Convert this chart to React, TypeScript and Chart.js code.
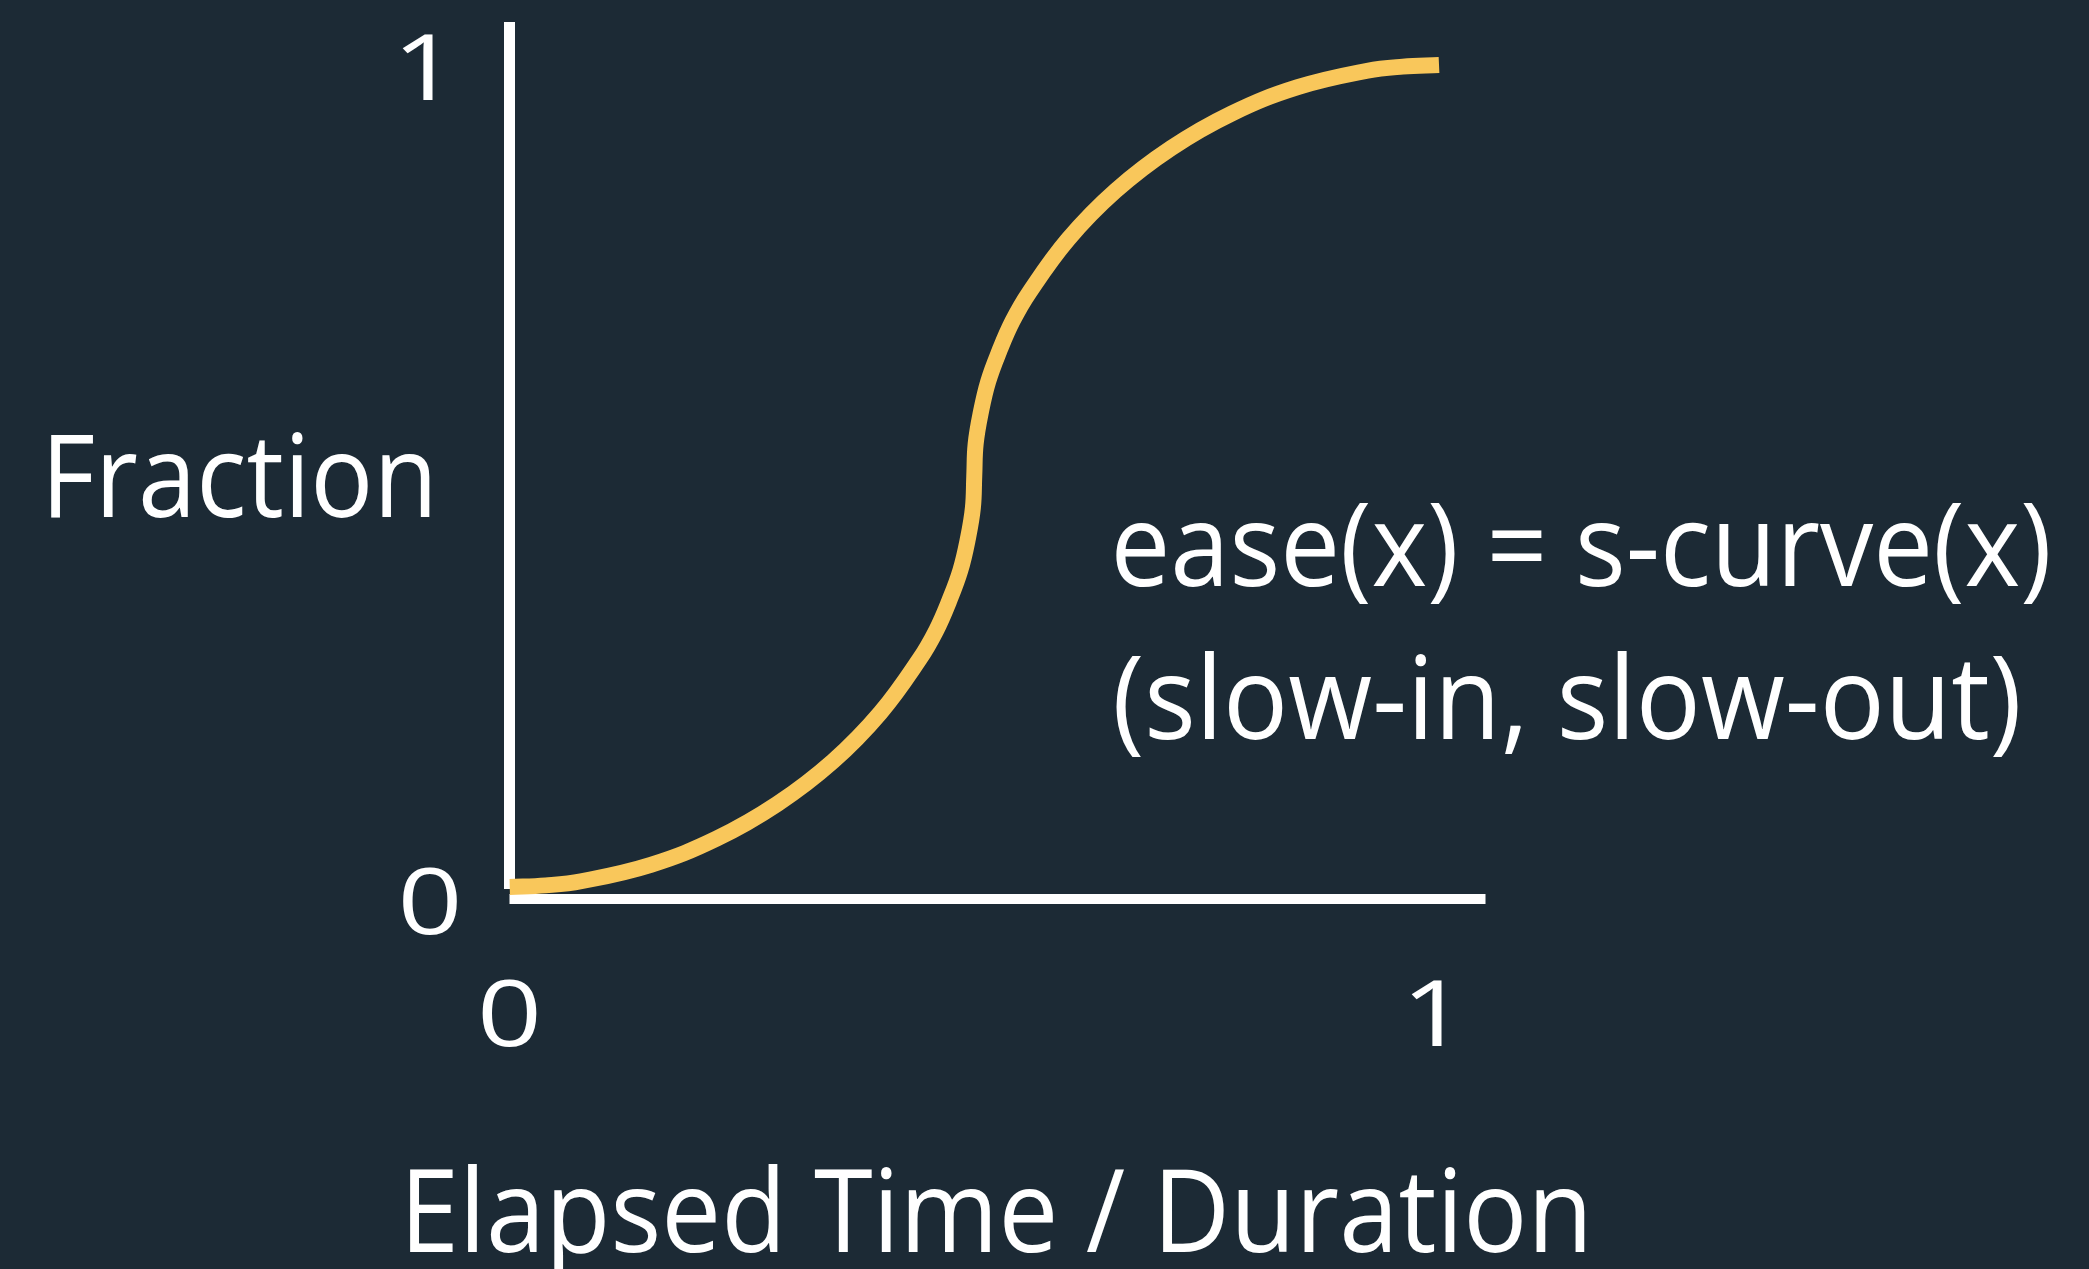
import React, { useEffect, useRef } from "react";
import { Chart, registerables } from "chart.js";

Chart.register(...registerables);

// ---- data ----
const curveX = [0, 0.039, 0.077, 0.152, 0.223, 0.288, 0.348, 0.399, 0.441, 0.459, 0.473, 0.485, 0.493, 0.4985, 0.5, 0.5015, 0.507, 0.515, 0.527, 0.541, 0.559, 0.601, 0.652, 0.712, 0.777, 0.848, 0.923, 0.961, 1.0];
const curveY = [0, 0.002, 0.007, 0.027, 0.059, 0.101, 0.153, 0.212, 0.277, 0.312, 0.348, 0.385, 0.423, 0.461, 0.5, 0.539, 0.577, 0.615, 0.652, 0.688, 0.723, 0.788, 0.847, 0.899, 0.941, 0.973, 0.993, 0.998, 1.0];

const xTickValues = [0, 1];
const xTickLabels = ["0", "1"];
const yTickValues = [0, 1];
const yTickLabels = ["0", "1"];

const xTitle = "Elapsed Time / Duration";
const yTitle = "Fraction";
const noteLines = ["ease(x) = s-curve(x)", "(slow-in, slow-out)"];

// ---- styles ----
const BG = "#1c2a35";
const CURVE = "#f9c75b";
const WHITE = "#ffffff";
const FONT = '"Open Sans", "DejaVu Sans", sans-serif';

function fitText(
  ctx: CanvasRenderingContext2D,
  text: string,
  size: number,
  left: number,
  width: number,
  baseline: number
) {
  ctx.font = `${size}px ${FONT}`;
  ctx.textAlign = "left";
  ctx.textBaseline = "alphabetic";
  const m = ctx.measureText(text);
  const inkW = m.actualBoundingBoxLeft + m.actualBoundingBoxRight;
  const sx = width / inkW;
  ctx.save();
  ctx.translate(left, baseline);
  ctx.scale(sx, 1);
  ctx.fillText(text, m.actualBoundingBoxLeft, 0);
  ctx.restore();
}

// tick labels: ink left-aligned at `left`
function tickText(
  ctx: CanvasRenderingContext2D,
  text: string,
  left: number,
  baseline: number
) {
  const w = text === "1" ? 30 : 55;
  fitText(ctx, text, 91, left, w, baseline);
}

const decorPlugin = {
  id: "decor",
  beforeDraw(chart: any) {
    const ctx = chart.ctx as CanvasRenderingContext2D;
    ctx.save();
    ctx.fillStyle = BG;
    ctx.fillRect(0, 0, chart.width, chart.height);
    ctx.restore();
  },
  beforeDatasetsDraw(chart: any) {
    const ctx = chart.ctx as CanvasRenderingContext2D;
    const { chartArea } = chart;
    const xs = chart.scales.x;
    const ys = chart.scales.y;
    ctx.save();
    ctx.strokeStyle = WHITE;
    ctx.lineCap = "butt";
    // y axis
    ctx.lineWidth = 11;
    ctx.beginPath();
    const x0 = xs.getPixelForValue(0);
    ctx.moveTo(x0, chartArea.top);
    ctx.lineTo(x0, ys.getPixelForValue(0) + 2);
    ctx.stroke();
    // x axis
    ctx.lineWidth = 10;
    ctx.beginPath();
    ctx.moveTo(x0, chartArea.bottom);
    ctx.lineTo(chartArea.right, chartArea.bottom);
    ctx.stroke();
    ctx.restore();
  },
  afterDraw(chart: any) {
    const ctx = chart.ctx as CanvasRenderingContext2D;
    const { chartArea } = chart;
    const xs = chart.scales.x;
    const ys = chart.scales.y;
    ctx.save();
    ctx.fillStyle = WHITE;

    // y tick labels
    yTickValues.forEach((v, i) => {
      const py = v === 0 ? chartArea.bottom : ys.getPixelForValue(v);
      tickText(ctx, yTickLabels[i], chartArea.left - 107, py + 35);
    });
    // x tick labels
    xTickValues.forEach((v, i) => {
      const px = xs.getPixelForValue(v) - 27.5;
      tickText(ctx, xTickLabels[i], px, chartArea.bottom + 147);
    });

    // y title (horizontal, left of axis)
    const yRight = chartArea.left - 79.5;
    fitText(ctx, yTitle, 115, 51, yRight - 51, ys.getPixelForValue(0.5) + 41.5);

    // x title, centred under the plot
    const cx = (chartArea.left + chartArea.right) / 2;
    fitText(ctx, xTitle, 115, cx - 587.5, 1175, chartArea.bottom + 353);

    // annotation
    const nx = xs.getPixelForValue(0.6525);
    fitText(ctx, noteLines[0], 115, nx, 932, ys.getPixelForValue(0.366));
    fitText(ctx, noteLines[1], 115, nx, 902, ys.getPixelForValue(0.18));

    ctx.restore();
  },
};

export default function App() {
  const ref = useRef<HTMLCanvasElement>(null);

  useEffect(() => {
    document.body.style.margin = "0";
    document.body.style.background = BG;
    const canvas = ref.current;
    if (!canvas) return;
    const points = curveX.map((x, i) => ({ x, y: curveY[i] }));
    const chart = new Chart(canvas, {
      type: "line",
      data: {
        datasets: [
          {
            data: points,
            borderColor: CURVE,
            borderWidth: 16,
            borderCapStyle: "butt",
            borderJoinStyle: "round",
            pointRadius: 0,
            fill: false,
            tension: 0.4,
          } as any,
        ],
      },
      options: {
        responsive: false,
        maintainAspectRatio: false,
        animation: false,
        devicePixelRatio: 1,
        layout: {
          padding: { left: 509.5, right: 603.5, top: 22, bottom: 370 },
        },
        scales: {
          x: { type: "linear", min: 0, max: 1.05, display: false },
          y: { type: "linear", min: -0.0146, max: 1.0523, display: false },
        },
        plugins: {
          legend: { display: false },
          tooltip: { enabled: false },
        },
        events: [],
      },
      plugins: [decorPlugin],
    });
    return () => chart.destroy();
  }, []);

  return (
    <div style={{ width: 2089, height: 1269, background: BG, overflow: "hidden" }}>
      <canvas
        ref={ref}
        width={2089}
        height={1269}
        style={{ display: "block", width: 2089, height: 1269 }}
      />
    </div>
  );
}
